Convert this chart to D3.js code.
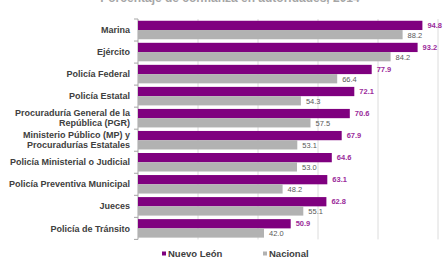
<!DOCTYPE html>
<html>
<head>
<meta charset="utf-8">
<script src="https://cdn.jsdelivr.net/npm/d3@7"></script>
<style>
  body { margin: 0; background: #fff; }
  text { font-family: "Liberation Sans", Arial, sans-serif; }
</style>
</head>
<body>
<svg id="chart" width="443" height="259"></svg>
<script>
// categories (top to bottom), label lines
var categories = [
  ["Marina"],
  ["Ejército"],
  ["Policía Federal"],
  ["Policía Estatal"],
  ["Procuraduría General de la", "República (PGR)"],
  ["Ministerio Público (MP) y", "Procuradurías Estatales"],
  ["Policía Ministerial o Judicial"],
  ["Policía Preventiva Municipal"],
  ["Jueces"],
  ["Policía de Tránsito"]
];
var nuevoLeon = [94.8, 93.2, 77.9, 72.1, 70.6, 67.9, 64.6, 63.1, 62.8, 50.9];
var nacional  = [88.2, 84.2, 66.4, 54.3, 57.5, 53.1, 53.0, 48.2, 55.1, 42.0];
var series = ["Nuevo León", "Nacional"];
var xTicks = [20, 40, 60, 80, 100];

var purple = "#7f007f", grey = "#b2b2b2";

var svg = d3.select("#chart");

//partial title, mostly cut off at top
svg.append("text")
  .attr("x", 230).attr("y", 1.5)
  .attr("text-anchor", "middle")
  .attr("font-size", 12).attr("font-weight", "bold")
  .attr("fill", "#a6a6a6")
  .text("Porcentaje de confianza en autoridades, 2014");

var plotLeft = 138, plotRight = 438, plotTop = 19, plotBottom = 239.4;

var x = d3.scaleLinear().domain([0, 100]).range([plotLeft, plotRight]);
var y = d3.scaleBand().domain(d3.range(categories.length))
  .range([plotTop, plotBottom]).paddingInner(0.16).paddingOuter(0.08);
var ys = d3.scaleBand().domain(series).range([0, y.bandwidth()]);

//gridlines
svg.append("g").selectAll("line").data(xTicks).join("line")
  .attr("x1", d => x(d)).attr("x2", d => x(d))
  .attr("y1", plotTop).attr("y2", plotBottom)
  .attr("stroke", "#dcdcdc").attr("stroke-width", 1);

//left axis line + ticks at band edges
svg.append("line")
  .attr("x1", plotLeft).attr("x2", plotLeft).attr("y1", plotTop).attr("y2", plotBottom)
  .attr("stroke", "#a6a6a6");
svg.append("g").selectAll("line").data(d3.range(categories.length + 1)).join("line")
  .attr("x1", plotLeft - 4).attr("x2", plotLeft)
  .attr("y1", i => plotTop + i * y.step()).attr("y2", i => plotTop + i * y.step())
  .attr("stroke", "#a6a6a6");

var rows = svg.append("g").selectAll("g").data(categories).join("g")
  .attr("transform", (d, i) => "translate(0," + y(i) + ")");

//bars
rows.append("rect")
  .attr("x", plotLeft).attr("y", ys("Nuevo León"))
  .attr("width", (d, i) => x(nuevoLeon[i]) - plotLeft)
  .attr("height", ys.bandwidth())
  .attr("fill", purple);
rows.append("rect")
  .attr("x", plotLeft).attr("y", ys("Nacional"))
  .attr("width", (d, i) => x(nacional[i]) - plotLeft)
  .attr("height", ys.bandwidth())
  .attr("fill", grey);

//value labels
rows.append("text")
  .attr("x", (d, i) => x(nuevoLeon[i]) + 5)
  .attr("y", ys("Nuevo León") + ys.bandwidth() / 2)
  .attr("dy", "0.35em")
  .attr("font-size", 7.5).attr("font-weight", "bold")
  .attr("fill", "#9a2a9a")
  .text((d, i) => nuevoLeon[i].toFixed(1));
rows.append("text")
  .attr("x", (d, i) => x(nacional[i]) + 5)
  .attr("y", ys("Nacional") + ys.bandwidth() / 2)
  .attr("dy", "0.4em")
  .attr("font-size", 7.5)
  .attr("fill", "#595959")
  .text((d, i) => nacional[i].toFixed(1));

//category labels
rows.append("text")
  .attr("text-anchor", "end")
  .attr("font-size", 9).attr("font-weight", "bold")
  .attr("fill", "#404040")
  .each(function(d) {
    var t = d3.select(this);
    var off = -(d.length - 1) * 5;
    d.forEach(function(line, k) {
      t.append("tspan")
        .attr("x", 130)
        .attr("y", y.bandwidth() / 2 + off + k * 10)
        .attr("dy", "0.35em")
        .text(line);
    });
  });

//legend
var legend = svg.append("g").selectAll("g").data(series).join("g")
  .attr("transform", (d, i) => "translate(" + (162 + i * 101) + ",254)");
legend.append("rect")
  .attr("x", 0).attr("y", -2.5).attr("width", 4).attr("height", 4)
  .attr("fill", (d, i) => i === 0 ? purple : grey);
legend.append("text")
  .attr("x", 6).attr("y", 0).attr("dy", "0.35em")
  .attr("font-size", 9.5).attr("font-weight", "bold")
  .attr("fill", "#404040")
  .text(d => d);
</script>
</body>
</html>
